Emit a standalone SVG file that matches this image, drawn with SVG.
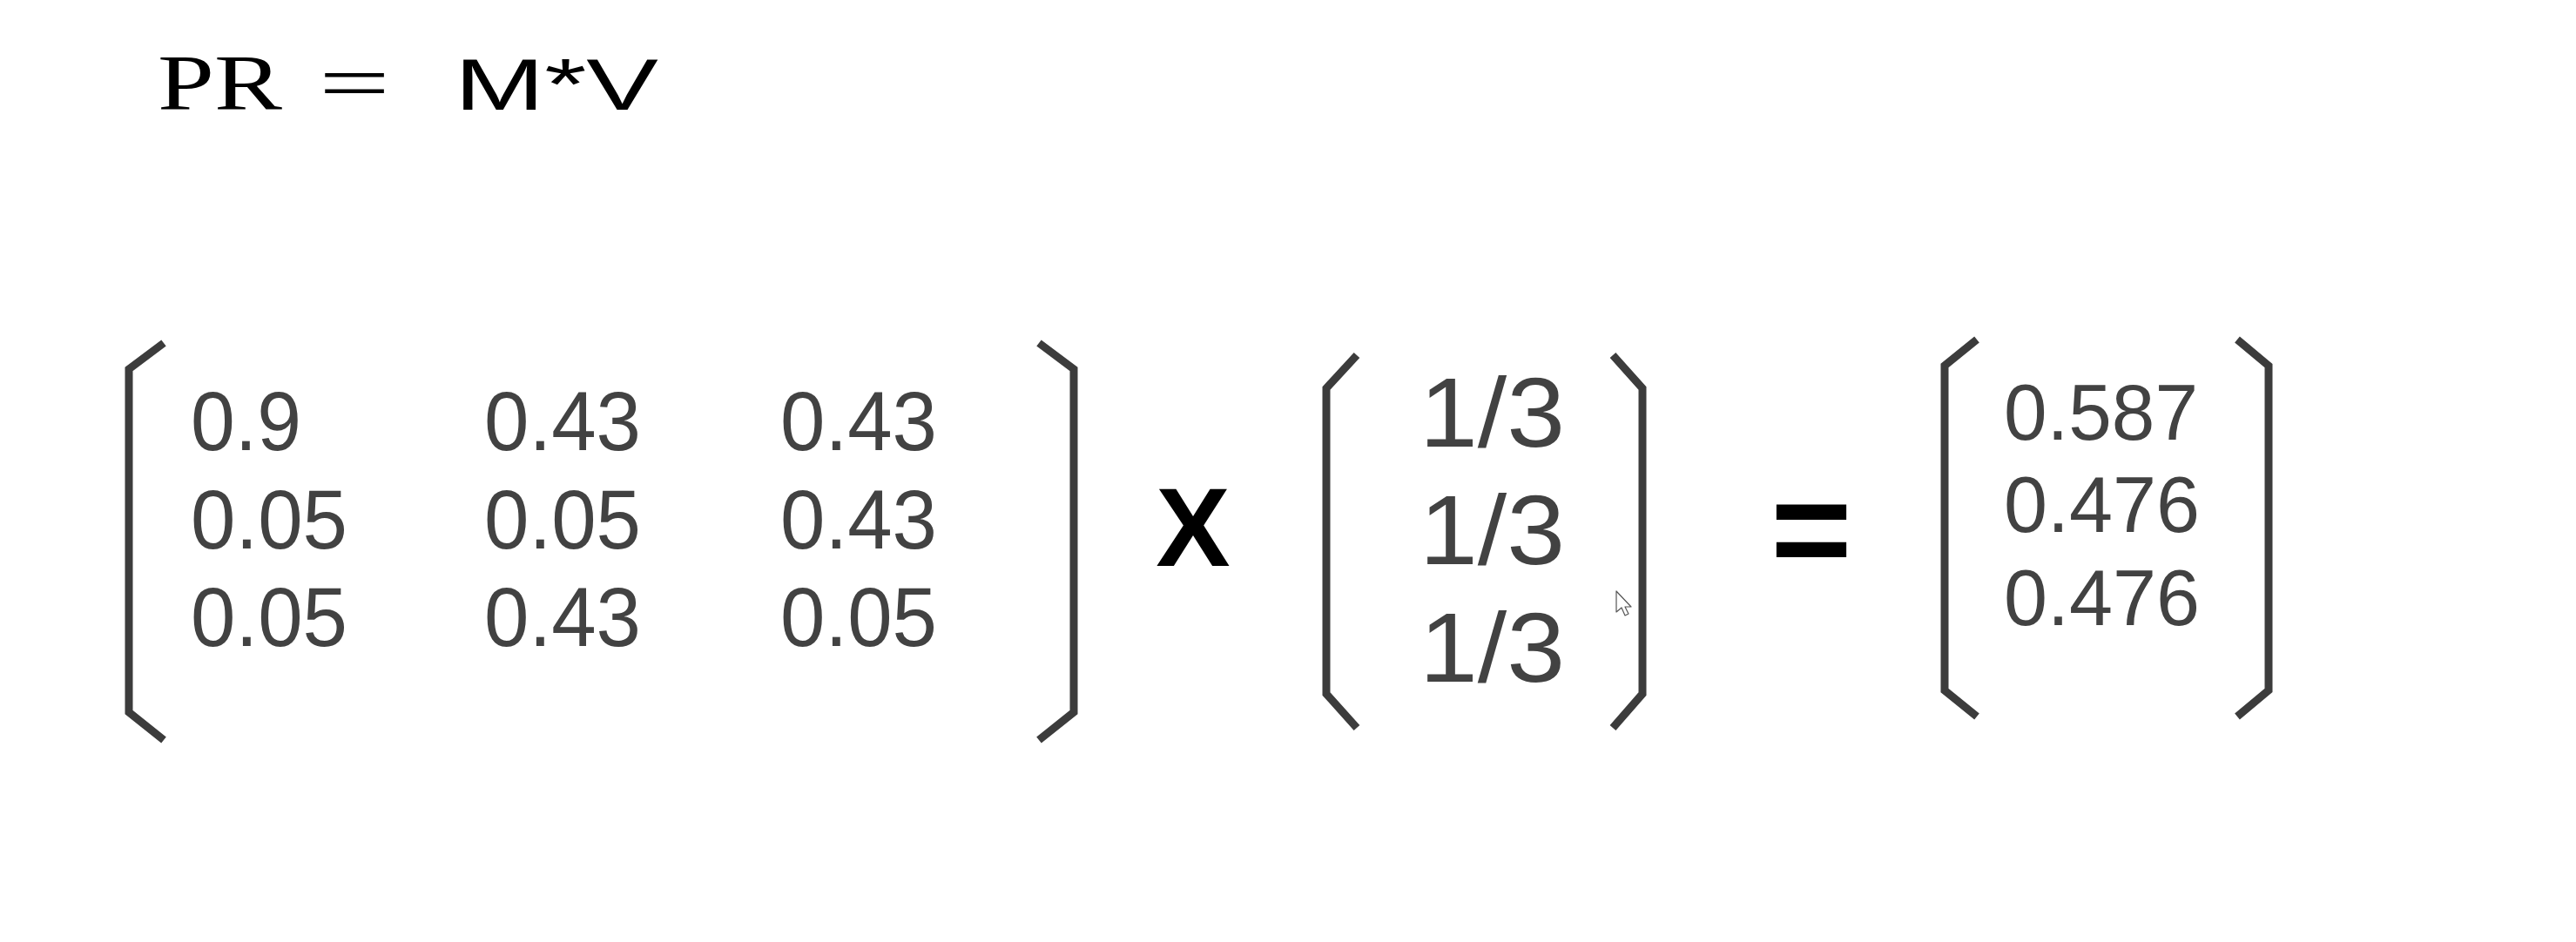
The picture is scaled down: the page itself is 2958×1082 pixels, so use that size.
<svg xmlns="http://www.w3.org/2000/svg" width="2958" height="1082" viewBox="0 0 2958 1082">
  <style>
    .bracket { fill: none; stroke: #3c3c3c; stroke-width: 9; stroke-linejoin: miter; stroke-linecap: butt; }
    .num { font-family: "Liberation Sans", Arial, sans-serif; fill: #424242; }
    .m { font-size: 96px; }
    .v { font-size: 113px; }
    .r { font-size: 91px; }
    .op { font-family: "Liberation Sans", Arial, sans-serif; font-weight: bold; fill: #000; }
  </style>
  <rect x="0" y="0" width="2958" height="1082" fill="#ffffff"/>

  <g id="title">
    <text x="181" y="126" font-family="'Liberation Serif', 'Times New Roman', serif" font-size="90" fill="#000" textLength="143" lengthAdjust="spacingAndGlyphs">PR</text>
    <text x="366" y="126" font-family="'Liberation Serif', 'Times New Roman', serif" font-size="90" fill="#000" textLength="82" lengthAdjust="spacingAndGlyphs">=</text>
    <text x="522" y="126" font-family="'Liberation Sans', Arial, sans-serif" font-size="84" fill="#000" textLength="234" lengthAdjust="spacingAndGlyphs">M*V</text>
  </g>

  <g id="matrix-M">
    <path class="bracket" d="M188,394 L148,424 L148,818 L188,850"/>
    <path class="bracket" d="M1193,394 L1233,424 L1233,818 L1193,850"/>
    <text class="num m" x="219" y="517" textLength="127" lengthAdjust="spacingAndGlyphs">0.9</text>
    <text class="num m" x="556" y="517" textLength="180" lengthAdjust="spacingAndGlyphs">0.43</text>
    <text class="num m" x="896" y="517" textLength="180" lengthAdjust="spacingAndGlyphs">0.43</text>
    <text class="num m" x="219" y="630" textLength="180" lengthAdjust="spacingAndGlyphs">0.05</text>
    <text class="num m" x="556" y="630" textLength="180" lengthAdjust="spacingAndGlyphs">0.05</text>
    <text class="num m" x="896" y="630" textLength="180" lengthAdjust="spacingAndGlyphs">0.43</text>
    <text class="num m" x="219" y="742" textLength="180" lengthAdjust="spacingAndGlyphs">0.05</text>
    <text class="num m" x="556" y="742" textLength="180" lengthAdjust="spacingAndGlyphs">0.43</text>
    <text class="num m" x="896" y="742" textLength="180" lengthAdjust="spacingAndGlyphs">0.05</text>
  </g>

  <g id="op-times">
    <text class="op" x="1370" y="650" font-size="128" text-anchor="middle">X</text>
  </g>

  <g id="vector-V">
    <path class="bracket" d="M1558,408 L1523,446 L1523,797 L1558,836"/>
    <path class="bracket" d="M1852,408 L1886,446 L1886,797 L1852,836"/>
    <text class="num v" x="1630" y="513" textLength="167" lengthAdjust="spacingAndGlyphs">1/3</text>
    <text class="num v" x="1630" y="648" textLength="167" lengthAdjust="spacingAndGlyphs">1/3</text>
    <text class="num v" x="1630" y="783" textLength="167" lengthAdjust="spacingAndGlyphs">1/3</text>
  </g>

  <g id="op-equals">
    <text class="op" x="2080" y="663" font-size="160" text-anchor="middle">=</text>
  </g>

  <g id="result">
    <path class="bracket" d="M2270,390 L2233,420 L2233,793 L2270,823"/>
    <path class="bracket" d="M2569,390 L2605,420 L2605,793 L2569,823"/>
    <text class="num r" x="2301" y="505" textLength="223" lengthAdjust="spacingAndGlyphs">0.587</text>
    <text class="num r" x="2301" y="611" textLength="225" lengthAdjust="spacingAndGlyphs">0.476</text>
    <text class="num r" x="2301" y="718" textLength="225" lengthAdjust="spacingAndGlyphs">0.476</text>
  </g>

  <g id="cursor">
    <polygon points="1856,679 1856,703 1862,698 1866,707 1870,705 1866,697 1873,697" fill="#ffffff" stroke="#555555" stroke-width="1.2" stroke-linejoin="round"/>
  </g>
</svg>
